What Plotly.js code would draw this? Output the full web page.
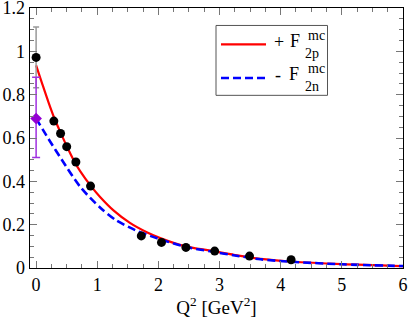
<!DOCTYPE html>
<html><head><meta charset="utf-8">
<script src="https://cdn.plot.ly/plotly-3.0.1.min.js"></script>
<style>html,body{margin:0;padding:0;background:#fff;}#chart{width:409px;height:318px;}</style>
</head><body><div id="chart"></div>
<script>
// Data
const dataX = [0, 0.29, 0.40, 0.50, 0.65, 0.89, 1.72, 2.05, 2.45, 2.92, 3.49, 4.17];
const dataY = [0.972, 0.678, 0.621, 0.56, 0.489, 0.378, 0.148, 0.118, 0.095, 0.078, 0.055, 0.038];
const dataErr = [0.14, 0, 0, 0, 0, 0.012, 0, 0, 0, 0, 0, 0];

const neutronX = [0];
const neutronY = [0.69];
const neutronErrPlus = [0.19];
const neutronErrMinus = [0.18];

const protonCurveX = [0, 0.1, 0.2, 0.3, 0.4, 0.5, 0.61, 0.72, 0.9, 1.05, 1.27, 1.54, 1.81, 2.03, 2.44, 2.85, 3.25, 3.67, 4.17, 5.0, 6.0];
const protonCurveY = [0.935, 0.85, 0.767, 0.69, 0.625, 0.563, 0.50, 0.447, 0.377, 0.327, 0.265, 0.207, 0.165, 0.138, 0.10, 0.08, 0.06, 0.042, 0.03, 0.018, 0.009];

const neutronCurveX = [0, 0.2, 0.42, 0.72, 1.05, 1.3, 1.62, 1.98, 2.44, 2.85, 3.25, 3.67, 4.17, 5.0, 6.0];
const neutronCurveY = [0.69, 0.597, 0.50, 0.375, 0.278, 0.222, 0.175, 0.137, 0.098, 0.077, 0.058, 0.04, 0.029, 0.017, 0.009];

const xTicks = [0, 1, 2, 3, 4, 5, 6];
const yTicks = [0, 0.2, 0.4, 0.6, 0.8, 1, 1.2];
const yTickText = ['0', '0.2', '0.4', '0.6', '0.8', '1', '1.2'];

const FONT = "'Liberation Serif', 'DejaVu Serif', serif";

const traces = [
  {x: protonCurveX, y: protonCurveY, mode: 'lines', name: '+ F2p mc', showlegend: false,
   line: {color: '#ff0000', width: 2.2, shape: 'spline', smoothing: 0.8}, hoverinfo: 'skip'},
  {x: neutronCurveX, y: neutronCurveY, mode: 'lines', name: '- F2n mc', showlegend: false,
   line: {color: '#0000ff', width: 2.6, dash: '8px,4px', shape: 'spline', smoothing: 0.8}, hoverinfo: 'skip'},
  {x: dataX, y: dataY, mode: 'markers', showlegend: false,
   marker: {color: '#000', size: 9, symbol: 'circle'},
   error_y: {type: 'data', array: dataErr, visible: true, color: '#999999', thickness: 1.5, width: 3}},
  {x: neutronX, y: neutronY, mode: 'markers', showlegend: false,
   marker: {color: '#9400d3', size: 9, symbol: 'diamond'},
   error_y: {type: 'data', symmetric: false, array: neutronErrPlus, arrayminus: neutronErrMinus, visible: true, color: '#a030e0', thickness: 1.5, width: 4}}
];

const L = 30, R = 403, T = 7.5, B = 268;
function px2x(p){ return (p - L) / (R - L); }
function py2y(p){ return (B - p) / (B - T); }

const shapes = [
  {type: 'rect', xref: 'paper', yref: 'paper', x0: px2x(216), x1: px2x(327.5), y0: py2y(95), y1: py2y(25),
   line: {color: '#555', width: 1}, fillcolor: 'rgba(0,0,0,0)'},
  {type: 'line', xref: 'paper', yref: 'paper', x0: px2x(221), x1: px2x(266), y0: py2y(44), y1: py2y(44),
   line: {color: '#ff0000', width: 2.2}},
  {type: 'line', xref: 'paper', yref: 'paper', x0: px2x(221), x1: px2x(266), y0: py2y(77.7), y1: py2y(77.7),
   line: {color: '#0000ff', width: 2.6, dash: '8px,4px'}}
];

function ann(text, px, py, size){
  return {text: text, xref: 'paper', yref: 'paper', x: px2x(px), y: py2y(py), xanchor: 'left', yanchor: 'middle',
          showarrow: false, font: {family: FONT, size: size, color: '#000'}};
}
const annotations = [
  ann('+', 272, 42, 18), ann('F', 287.5, 41, 18), ann('mc', 305.5, 35, 14), ann('2p', 302.5, 53, 14),
  ann('-', 272.5, 75, 18), ann('F', 286.5, 74, 18), ann('mc', 305.5, 68.5, 14), ann('2n', 302.5, 86.5, 14)
];

const layout = {
  width: 409, height: 318,
  margin: {l: L, r: 409 - R, t: T, b: 318 - B},
  paper_bgcolor: '#fff', plot_bgcolor: '#fff',
  font: {family: FONT, size: 18, color: '#000'},
  xaxis: {range: [-0.1, 6], tickvals: xTicks, ticktext: xTicks.map(String), ticks: 'inside', ticklen: 7,
          tickcolor: '#777', tickwidth: 1, showline: true, linecolor: '#000', linewidth: 1.3, mirror: 'allticks',
          showgrid: false, zeroline: false, tickfont: {family: FONT, size: 18}, ticklabeloverflow: 'allow',
          minor: {dtick: 0.25, tick0: 0, ticks: 'inside', ticklen: 4, tickcolor: '#777', showgrid: false},
          title: {text: 'Q<sup>2</sup> [GeV<sup>2</sup>]', font: {family: FONT, size: 19}, standoff: 6}},
  yaxis: {range: [0, 1.2], tickvals: yTicks, ticktext: yTickText, ticks: 'inside', ticklen: 7,
          tickcolor: '#777', tickwidth: 1, showline: true, linecolor: '#000', linewidth: 1.3, mirror: 'allticks',
          showgrid: false, zeroline: false, tickfont: {family: FONT, size: 18}, ticklabeloverflow: 'allow',
          minor: {dtick: 0.05, tick0: 0, ticks: 'inside', ticklen: 4, tickcolor: '#777', showgrid: false}},
  shapes: shapes,
  annotations: annotations,
  showlegend: false
};

Plotly.newPlot('chart', traces, layout, {displayModeBar: false, staticPlot: true});
</script>
</body></html>
